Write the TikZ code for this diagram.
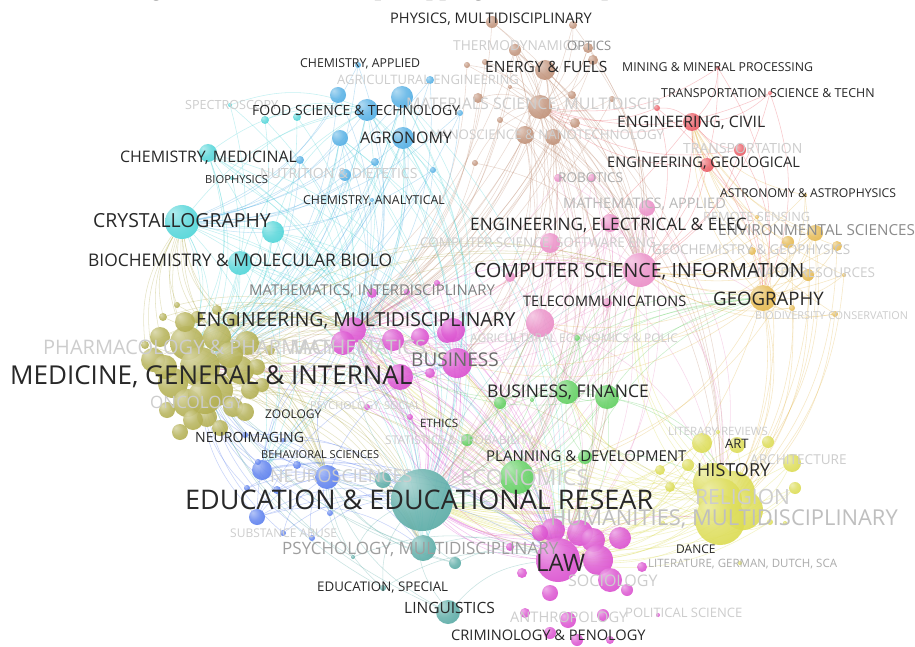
\documentclass[tikz,border=0pt]{standalone}
\usepackage{fontspec}
\setmainfont{Open Sans}
\newfontfamily\capfont{Liberation Serif}
\pgfdeclarelayer{bg}
\pgfsetlayers{bg,main}
\definecolor{olv}{RGB}{170,166,62}
\definecolor{cyn}{RGB}{60,208,212}
\definecolor{sky}{RGB}{62,165,225}
\definecolor{brn}{RGB}{185,132,104}
\definecolor{rdd}{RGB}{232,72,82}
\definecolor{pnk}{RGB}{232,128,192}
\definecolor{mag}{RGB}{215,60,202}
\definecolor{grn}{RGB}{78,202,78}
\definecolor{gld}{RGB}{226,176,58}
\definecolor{ylw}{RGB}{216,216,64}
\definecolor{blu}{RGB}{72,112,236}
\definecolor{tel}{RGB}{72,162,156}
\definecolor{txd}{RGB}{40,40,40}
\definecolor{txf}{RGB}{205,205,205}
\colorlet{bubcol}{gray}
\pgfdeclareradialshading[bubcol]{bubshade}{\pgfpoint{-14bp}{14bp}}{color(0bp)=(bubcol!45!white); color(20bp)=(bubcol!80!white); color(45bp)=(bubcol); color(70bp)=(bubcol!85!black)}
\tikzset{
	bub/.style={circle, inner sep=0pt, minimum size=#1, shade, shading=bubshade, fill opacity=0.9},
	bc/.code={\colorlet{bubcol}{#1}},
	lnk/.style={draw=#1, draw opacity=0.3, line width=0.55pt},
	lab/.style={anchor=west, inner sep=0pt, text=#1},
	fs/.style={font=\fontsize{#1}{#1}\selectfont, text height=#1pt*0.72, text depth=0pt},
}

\begin{document}
\begin{tikzpicture}[x=1pt,y=-1pt]
			%%%%% START %%%%%
			
			\begin{pgfonlayer}{bg}
				\fill[white] (0,0) rectangle (915,647);
			\end{pgfonlayer}
			\useasboundingbox (0,0) rectangle (915,647);
			
			% caption line cut by the top edge
			\begin{scope}
				\clip (0,0) rectangle (915,647);
				\node[anchor=base west, inner sep=0pt, font=\capfont\bfseries\fontsize{24}{24}\selectfont] (ttl) at (129,-4) {Figure 5. Science overlap mapping of the disciplines};
			\end{scope}
			
			% bubbles
			\foreach \n/\x/\y/\rad in {1/163/317/4, 2/177/305/3, 3/197/317/6, 4/217/310/5, 5/233/320/6, 6/160/337/10, 7/187/343/17, 8/217/337/14, 9/247/343/12, 10/153/360/12, 11/200/367/20, 12/240/370/14, 13/173/383/15, 14/217/390/16, 15/187/403/14, 16/233/407/10, 17/257/367/8, 18/167/410/8, 19/207/417/10, 20/250/390/9, 21/193/420/10, 22/270/350/5, 23/145/345/4, 24/185/322/10, 25/230/355/13, 26/205/397/17, 27/165/367/12, 28/245/412/9, 29/180/432/8, 30/220/428/8, 31/262/385/7}
				\node[bub=\rad*2pt, bc=olv] (ol\n) at (\x,\y) {};
			
			\foreach \n/\x/\y/\rad in {1/230/105/2, 2/265/120/4, 3/297/117/4, 4/208/153/9, 5/182/222/17, 6/273/232/11, 7/240/263/12, 8/232/178/2}
				\node[bub=\rad*2pt, bc=cyn] (cy\n) at (\x,\y) {};
			
			\foreach \n/\x/\y/\rad in {1/338/95/8, 2/367/110/11, 3/402/97/11, 4/430/80/4, 5/340/138/8, 6/403/138/11, 7/375/162/4, 8/345/175/6, 9/433/170/3, 10/358/65/3, 11/300/160/4, 12/460/113/3, 13/372/200/2}
				\node[bub=\rad*2pt, bc=sky] (sk\n) at (\x,\y) {};
			
			\foreach \n/\x/\y/\rad in {1/492/22/6, 2/573/25/4, 3/515/50/6, 4/588/48/5, 5/545/70/10, 6/593/60/5, 7/467/65/3, 8/485/62/3, 9/510/87/2, 10/478/98/5, 11/540/107/12, 12/572/95/4, 13/612/99/3, 14/500/120/3, 15/575/123/5, 16/525/135/9, 17/553/137/8, 18/475/163/3}
				\node[bub=\rad*2pt, bc=brn] (br\n) at (\x,\y) {};
			
			\foreach \n/\x/\y/\rad in {1/657/108/3, 2/692/122/9, 3/740/150/6, 4/707/165/7, 5/718/68/2, 6/770/93/2}
				\node[bub=\rad*2pt, bc=rdd] (rd\n) at (\x,\y) {};
			
			\foreach \n/\x/\y/\rad in {1/558/178/4, 2/592/178/4, 3/647/208/8, 4/610/223/9, 5/550/243/10, 6/510/277/5, 7/640/270/17, 8/607/303/5, 9/540/323/14}
				\node[bub=\rad*2pt, bc=pnk] (pk\n) at (\x,\y) {};
			
			\foreach \n/\x/\y/\rad in {1/353/330/13, 2/343/343/12, 3/393/340/11, 4/420/337/9, 5/447/333/10, 6/400/377/13, 7/430/373/5, 8/372/293/5, 9/407/292/3, 10/437/283/3, 11/457/363/15, 12/453/330/12, 13/367/407/3, 14/410/417/3, 15/553/530/12, 16/580/533/13, 17/593/540/12, 18/620/538/11, 19/540/533/8, 20/510/547/4, 21/558/560/22, 22/598/560/15, 23/610/580/12, 24/522/573/5, 25/550/593/8, 26/627/590/6, 27/642/567/5, 28/525/613/5, 29/568/620/8, 30/603/615/6, 31/550/633/6, 32/577/640/6, 33/610/640/4, 34/658/615/2}
				\node[bub=\rad*2pt, bc=mag] (mg\n) at (\x,\y) {};
			
			\foreach \n/\x/\y/\rad in {1/577/338/3, 2/500/403/6, 3/532/400/2, 4/567/392/12, 5/607/397/12, 6/467/440/6, 7/517/477/17, 8/585/457/7}
				\node[bub=\rad*2pt, bc=grn] (gn\n) at (\x,\y) {};
			
			\foreach \n/\x/\y/\rad in {1/805/195/2, 2/757/217/2, 3/815/233/8, 4/788/242/6, 5/837/246/5, 6/752/251/4, 7/808/275/6, 8/844/275/2, 9/763/298/13, 10/792/308/3, 11/835/314/3}
				\node[bub=\rad*2pt, bc=gld] (gd\n) at (\x,\y) {};
			
			\foreach \n/\x/\y/\rad in {1/718/432/2, 2/702/443/10, 3/737/445/8, 4/768/442/6, 5/688/465/6, 6/660/470/5, 7/792/463/9, 8/795/488/6, 9/670/487/5, 10/713/483/20, 11/733/493/22, 12/743/510/20, 13/720/500/22, 14/720/520/25, 15/770/522/3, 16/785/523/2, 17/663/523/2, 18/740/563/2}
				\node[bub=\rad*2pt, bc=ylw] (yl\n) at (\x,\y) {};
			
			\foreach \n/\x/\y/\rad in {1/262/470/10, 2/327/477/12, 3/297/465/4, 4/247/488/3, 5/257/517/8, 6/277/490/4, 7/330/513/3, 8/283/533/3, 9/312/538/3, 10/245/435/3, 11/283/440/2, 12/258/462/3}
				\node[bub=\rad*2pt, bc=blu] (bl\n) at (\x,\y) {};
			
			\foreach \n/\x/\y/\rad in {1/383/480/8, 2/422/500/31, 3/423/548/13, 4/455/563/6, 5/353/557/2, 6/383/588/3, 7/448/612/12}
				\node[bub=\rad*2pt, bc=tel] (tl\n) at (\x,\y) {};
			
			% links
			\begin{pgfonlayer}{bg}
				\foreach \a in {1,...,10,12,13,14,15,16,17,18} \foreach \b in {br11,mg1,pk7} {\draw[lnk=brn] (br\a) to[bend left=20] (\b);}
				\foreach \a in {1,3,4,5,6} \foreach \b in {rd2,pk7,br11,gd9} {\draw[lnk=rdd] (rd\a) to[bend left=20] (\b);}
				\foreach \a in {1,...,13} \foreach \b in {ol11,mg1,cy5} {\draw[lnk=sky] (sk\a) to[bend left=20] (\b);}
				\foreach \a in {1,2,3,4,6,7,8} \foreach \b in {ol11,sk2,mg1} {\draw[lnk=cyn] (cy\a) to[bend left=20] (\b);}
				\foreach \a in {1,...,10,12,...,31} \foreach \b in {mg1,bl2,cy5} {\draw[lnk=olv] (ol\a) to[bend left=20] (\b);}
				\foreach \a in {2,...,20,22,...,34} \foreach \b in {mg21,tl2,mg1} {\draw[lnk=mag] (mg\a) to[bend left=20] (\b);}
				\foreach \a in {1,...,6,8,9} \foreach \b in {pk7,mg1,tl2,gn4} {\draw[lnk=pnk] (pk\a) to[bend left=20] (\b);}
				\foreach \a in {1,2,3,5,6,7,8} \foreach \b in {gn4,tl2,gd9,mg21} {\draw[lnk=grn] (gn\a) to[bend left=20] (\b);}
				\foreach \a in {1,...,8,10,11} \foreach \b in {gd9,pk7,yl14,rd2} {\draw[lnk=gld] (gd\a) to[bend left=20] (\b);}
				\foreach \a in {1,...,13,15,...,18} \foreach \b in {yl14,mg21,tl2} {\draw[lnk=ylw] (yl\a) to[bend left=20] (\b);}
				\foreach \a in {1,3,4,...,12} \foreach \b in {bl2,tl2,ol11} {\draw[lnk=blu] (bl\a) to[bend left=20] (\b);}
				\foreach \a in {1,3,4,5,6,7} \foreach \b in {tl2,mg21,ol11,bl2} {\draw[lnk=tel] (tl\a) to[bend left=20] (\b);}
				% long range
				\foreach \a in {cy4,cy5,cy6,cy7,sk2,sk3,sk5,sk6} \foreach \b in {tl2,mg21,ol7,ol13,bl1,tl3,mg11} {\draw[lnk=cyn] (\a) to[bend left=25] (\b);}
				\foreach \a in {br3,br5,br11,br16,br17} \foreach \b in {ol11,tl2,mg21,gn7,yl14,mg11} {\draw[lnk=brn] (\a) to[bend left=25] (\b);}
				\foreach \a in {pk3,pk4,pk5,pk7,pk9} \foreach \b in {mg21,tl2,ol11,yl13,mg11,gn7} {\draw[lnk=pnk] (\a) to[bend left=25] (\b);}
				\foreach \a in {ol7,ol11,ol14,ol8,ol13} \foreach \b in {tl2,mg21,pk7,mg11,tl3,gn7} {\draw[lnk=olv] (\a) to[bend left=25] (\b);}
				\foreach \a in {yl10,yl11,yl13,yl14} \foreach \b in {mg1,mg11,tl2,gn4,pk7} {\draw[lnk=ylw] (\a) to[bend left=25] (\b);}
				\foreach \a in {gn4,gn5,gn7} \foreach \b in {mg1,pk9,tl2,yl11} {\draw[lnk=grn] (\a) to[bend left=25] (\b);}
				\foreach \a in {gd3,gd9} \foreach \b in {mg11,gn7,pk9,yl13} {\draw[lnk=gld] (\a) to[bend left=25] (\b);}
				\foreach \a in {bl1,bl2,bl5} \foreach \b in {mg21,mg11,mg1,tl3} {\draw[lnk=blu] (\a) to[bend left=25] (\b);}
				\foreach \a/\b/\col in {br11/mg1/brn, br11/pk7/brn, rd2/pk7/rdd, rd2/br11/rdd, rd2/gd9/rdd, rd2/mg1/rdd, cy5/ol11/cyn, cy5/sk2/cyn, cy5/mg1/cyn, ol11/mg1/olv, ol11/bl2/olv, ol11/cy5/olv, ol11/yl14/olv, mg1/mg21/mag, mg1/tl2/mag, mg1/pk7/mag, mg1/ol11/mag, mg21/tl2/mag, mg21/yl14/mag, mg21/gn7/mag, pk7/gd9/pnk, gn4/gd9/grn, gn4/mg21/grn, gn4/pk7/grn, gd9/yl14/gld, gd9/rd2/gld, gd9/mg21/gld, yl14/gn7/ylw, bl2/tl2/blu, bl2/ol11/blu, tl2/mg21/tel, tl2/ol11/tel, tl2/bl2/tel, tl2/mg1/tel, tl2/pk7/tel}
					{\draw[lnk=\col] (\a) to[bend left=20] (\b);}
			\end{pgfonlayer}
			
			% faint labels
			\node[lab=txf, fs=13.7] (lthe) at (453,46) {THERMODYNAMICS};
			\node[lab=txf, fs=13] (lage) at (337,80) {AGRICULTURAL ENGINEERING};
			\node[lab=txf, fs=12.6] (lspe) at (185,105) {SPECTROSCOPY};
			\node[lab=txf, fs=16] (lmat) at (406,104) {MATERIALS SCIENCE, MULTIDISCIP};
			\node[lab=txf, fs=13.3] (lnan) at (430,135) {NANOSCIENCE \& NANOTECHNOLOGY};
			\node[lab=txf, fs=14] (ltra) at (683,148) {TRANSPORTATION};
			\node[lab=txf, fs=14] (lnut) at (260,173) {NUTRITION \& DIETETICS};
			\node[lab=txf, fs=12.8] (lrem) at (703,217) {REMOTE SENSING};
			\node[lab=txf, fs=13.5] (lsof) at (420,243) {COMPUTER SCIENCE, SOFTWARE ENG};
			\node[lab=txf, fs=13.5] (lwat) at (753,273) {WATER RESOURCES};
			\node[lab=txf, fs=10.9] (lbio) at (755,316) {BIODIVERSITY CONSERVATION};
			\node[lab=txf, fs=12] (lagr) at (470,338) {AGRICULTURAL ECONOMICS \& POLIC};
			\node[lab=txf, fs=20] (lpha) at (43,347) {PHARMACOLOGY \& PHARMACY};
			\node[lab=txf, fs=20] (lmth) at (290,347) {MATHEMATICS};
			\node[lab=txf, fs=17] (lonc) at (150,402) {ONCOLOGY};
			\node[lab=txf, fs=10.8] (lpss) at (310,406) {PSYCHOLOGY, SOCIAL};
			\node[lab=txf, fs=11.5] (llre) at (668,431) {LITERARY REVIEWS};
			\node[lab=txf, fs=12] (lsta) at (385,440) {STATISTICS \& PROBABILITY};
			\node[lab=txf, fs=13.6] (larc) at (750,460) {ARCHITECTURE};
			\node[lab=txf, fs=17.9] (lneu) at (270,476) {NEUROSCIENCES};
			\node[lab=txf, fs=22] (leco) at (460,478) {ECONOMICS};
			\node[lab=txf, fs=21] (lrel) at (695,497) {RELIGION};
			\node[lab=txf, fs=12] (lsub) at (230,533) {SUBSTANCE ABUSE};
			\node[lab=txf, fs=16] (lsoc) at (568,581) {SOCIOLOGY};
			\node[lab=txf, fs=13] (lpol) at (625,613) {POLITICAL SCIENCE};
			\node[lab=txf, fs=14.6] (lant) at (510,617) {ANTHROPOLOGY};
			
			% grey labels
			\node[lab=black!45, fs=13] (lopt) at (567,46) {OPTICS};
			\node[lab=black!32, fs=13.5] (lrob) at (558,178) {ROBOTICS};
			\node[lab=black!28, fs=14.5] (lmap) at (563,203) {MATHEMATICS, APPLIED};
			\node[lab=black!45, fs=15.2] (lenv) at (718,230) {ENVIRONMENTAL SCIENCES};
			\node[lab=black!22, fs=13.5] (lgeo) at (652,250) {GEOCHEMISTRY \& GEOPHYSICS};
			\node[lab=black!50, fs=14.9] (lmai) at (249,290) {MATHEMATICS, INTERDISCIPLINARY};
			\node[lab=black!58, fs=19] (lbus) at (411,360) {BUSINESS};
			\node[lab=black!25, fs=21.9] (lhum) at (550,518) {HUMANITIES, MULTIDISCIPLINARY};
			\node[lab=black!38, fs=17] (lpsm) at (282,548) {PSYCHOLOGY, MULTIDISCIPLINARY};
			\node[lab=black!33, fs=11.5] (llit) at (648,563) {LITERATURE, GERMAN, DUTCH, SCA};
			
			% dark labels
			\node[lab=txd, fs=14.6] (lphy) at (390,18) {PHYSICS, MULTIDISCIPLINARY};
			\node[lab=txd, fs=12.3] (lcap) at (300,63) {CHEMISTRY, APPLIED};
			\node[lab=txd, fs=15.5] (lene) at (485,67) {ENERGY \& FUELS};
			\node[lab=txd, fs=12.3] (lmin) at (622,67) {MINING \& MINERAL PROCESSING};
			\node[lab=txd, fs=12.4] (ltrs) at (661,93) {TRANSPORTATION SCIENCE \& TECHN};
			\node[lab=txd, fs=14] (lfoo) at (252,110) {FOOD SCIENCE \& TECHNOLOGY};
			\node[lab=txd, fs=15.8] (lciv) at (617,122) {ENGINEERING, CIVIL};
			\node[lab=txd, fs=16] (lagn) at (360,138) {AGRONOMY};
			\node[lab=txd, fs=15.9] (lcme) at (120,157) {CHEMISTRY, MEDICINAL};
			\node[lab=txd, fs=14.6] (lgel) at (607,162) {ENGINEERING, GEOLOGICAL};
			\node[lab=txd, fs=11.2] (lbph) at (205,179) {BIOPHYSICS};
			\node[lab=txd, fs=12.2] (last) at (720,193) {ASTRONOMY \& ASTROPHYSICS};
			\node[lab=txd, fs=12.3] (lcan) at (303,200) {CHEMISTRY, ANALYTICAL};
			\node[lab=txd, fs=19.4] (lcry) at (93,221) {CRYSTALLOGRAPHY};
			\node[lab=txd, fs=17.2] (lele) at (470,224) {ENGINEERING, ELECTRICAL \& ELEC};
			\node[lab=txd, fs=17.4] (lbch) at (88,260) {BIOCHEMISTRY \& MOLECULAR BIOLO};
			\node[lab=txd, fs=19.6] (lcsi) at (474,270) {COMPUTER SCIENCE, INFORMATION};
			\node[lab=txd, fs=18.6] (lgeg) at (713,299) {GEOGRAPHY};
			\node[lab=txd, fs=14.5] (ltel) at (523,301) {TELECOMMUNICATIONS};
			\node[lab=txd, fs=19.4] (lemu) at (196,320) {ENGINEERING, MULTIDISCIPLINARY};
			\node[lab=txd, fs=26] (lmed) at (10,375) {MEDICINE, GENERAL \& INTERNAL};
			\node[lab=txd, fs=17.5] (lfin) at (487,391) {BUSINESS, FINANCE};
			\node[lab=txd, fs=12] (lzoo) at (265,414) {ZOOLOGY};
			\node[lab=txd, fs=11.5] (leth) at (420,423) {ETHICS};
			\node[lab=txd, fs=14.1] (lnim) at (195,437) {NEUROIMAGING};
			\node[lab=txd, fs=13] (lart) at (725,444) {ART};
			\node[lab=txd, fs=11] (lbeh) at (261,455) {BEHAVIORAL SCIENCES};
			\node[lab=txd, fs=15] (lpla) at (486,456) {PLANNING \& DEVELOPMENT};
			\node[lab=txd, fs=18] (lhis) at (697,470) {HISTORY};
			\node[lab=txd, fs=27] (ledu) at (185,500) {EDUCATION \& EDUCATIONAL RESEAR};
			\node[lab=txd, fs=12] (ldan) at (676,549) {DANCE};
			\node[lab=txd, fs=24] (llaw) at (536,563) {LAW};
			\node[lab=txd, fs=13.3] (lesp) at (317,587) {EDUCATION, SPECIAL};
			\node[lab=txd, fs=15.5] (llin) at (404,608) {LINGUISTICS};
			\node[lab=txd, fs=14.6] (lcri) at (451,635) {CRIMINOLOGY \& PENOLOGY};
			
			%%%%% END %%%%%
\end{tikzpicture}
\end{document}
